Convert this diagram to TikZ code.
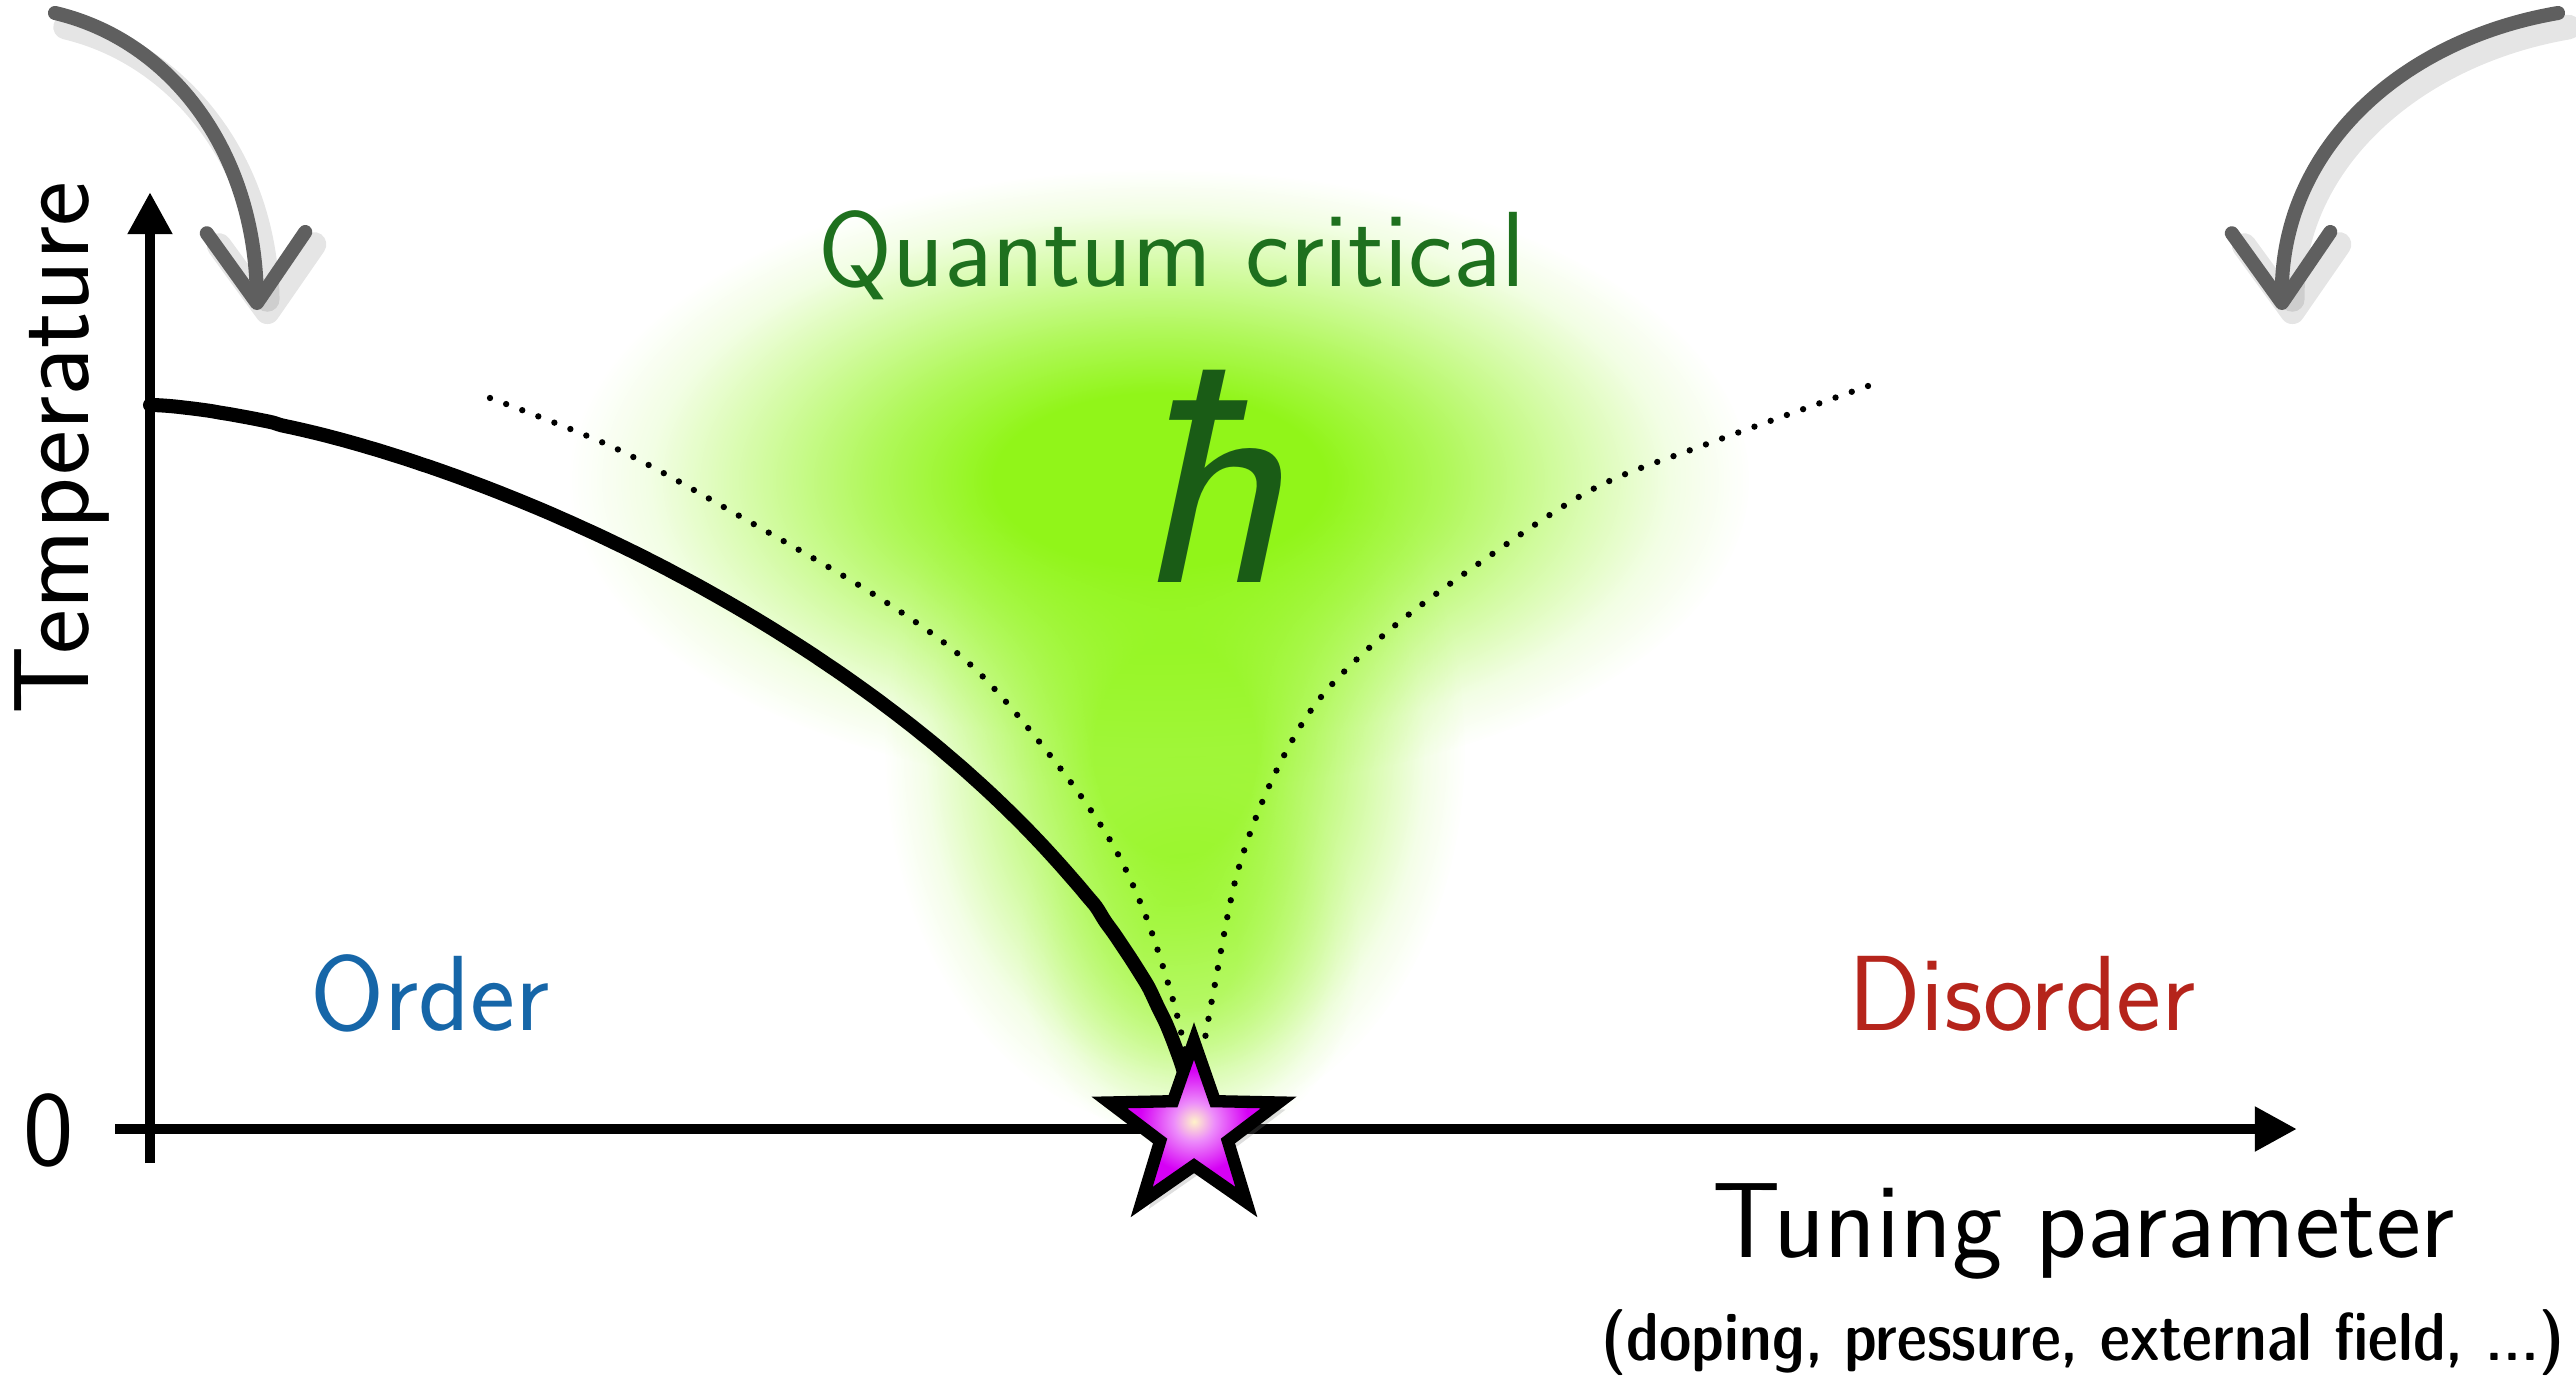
\documentclass[tikz,border=0pt]{standalone}
\usepackage{fontspec}
\renewcommand{\familydefault}{\sfdefault}
\newfontfamily\demicond{lmsansdemicond10-regular.otf}
\usetikzlibrary{
	arrows.meta,
	shapes.geometric,
	shadows,
	fadings
}

\definecolor{glowgreen}{RGB}{145,245,25}
\definecolor{qcgreen}{RGB}{30,112,30}
\definecolor{hbargreen}{RGB}{26,92,22}
\definecolor{ordercol}{RGB}{22,102,168}
\definecolor{disordercol}{RGB}{181,36,27}
\definecolor{chalkgray}{RGB}{95,95,95}
\definecolor{starcore}{RGB}{255,243,200}
\definecolor{starpink}{RGB}{214,0,245}

\pgfdeclareradialshading{glowshade}{\pgfpointorigin}{color(0bp)=(white); color(7bp)=(white); color(12bp)=(white!72!black); color(17bp)=(white!40!black); color(21.5bp)=(white!12!black); color(25bp)=(black); color(50bp)=(black)}
\pgfdeclarefading{glowfade}{\pgfuseshading{glowshade}}
\pgfdeclareradialshading{starshade}{\pgfpointorigin}{color(0bp)=(starcore); color(6bp)=(starpink!45!white); color(16bp)=(starpink); color(50bp)=(starpink)}

\begin{document}
\begin{tikzpicture}[
		x=0.01cm, y=-0.01cm,
		lbl/.style={font=\fontsize{30.4}{36}\selectfont, inner sep=0pt},
		axis/.style={line width=3pt, -{Triangle[length=12pt,width=12pt]}},
		boundary/.style={line width=4pt, line cap=round},
		crossover/.style={line width=1.8pt, line cap=round, dash pattern=on 0pt off 4.9pt},
		chalk/.style={draw=chalkgray, line width=4pt, line cap=round, -{Straight Barb[length=20pt,width=28pt,round]}},
		chalkshadow/.style={draw=black, opacity=0.1, line width=7pt, line cap=round, -{Straight Barb[length=19pt,width=27pt,round]}, transform canvas={shift={(3pt,-4pt)}}},
		glow/.style={fill=glowgreen, path fading=glowfade},
		qcpstar/.style={star, star points=5, star point ratio=2.5, minimum size=1.78cm, inner sep=0pt, draw, line width=3.5pt, shade, shading=starshade, drop shadow={opacity=0.25, shadow xshift=2pt, shadow yshift=-2pt}}
		]
		\useasboundingbox (0,0) rectangle (2576,1379);
		
		% Glow
		\fill[glow] (1160,480) ellipse (590 and 310);
		\fill[glow, opacity=0.85] (1175,750) ellipse (290 and 380);
		\fill[glow, opacity=0.5] (1190,950) ellipse (170 and 200);
		
		% Coordinates
		\coordinate (ybot) at (150,1163);
		\coordinate (ytip) at (150,192);
		\coordinate (xleft) at (115,1129);
		\coordinate (xtip) at (2297,1129);
		
		% Crossover lines
		\draw[crossover] plot[smooth, tension=0.55] coordinates {(490,398) (617,449) (743,518) (881,599) (973,667) (1053,759) (1110,840) (1145,914) (1173,1000) (1186,1055)};
		\draw[crossover] plot[smooth, tension=0.55] coordinates {(1868,386) (1707,444) (1593,489) (1478,564) (1386,633) (1317,702) (1271,782) (1237,874) (1214,989) (1203,1050)};
		
		% Phase boundary
		\draw[boundary] plot[domain=0:0.9995, samples=120, smooth] ({150+1044*\x}, {1129-724*(1-\x^1.5)^0.6}) -- (1194,1129);
		
		% Axes
		\draw[axis] (ybot) -- (ytip);
		\draw[axis] (xleft) -- (xtip);
		
		% Quantum critical point
		\node[qcpstar] (qcp) at (1194,1130) {};
		
		% Labels
		\node[lbl, rotate=90, anchor=base] (temp) at (88,448) {Temperature};
		\node[lbl] (zero) at (49,1130) {0};
		\node[lbl, anchor=base, text=ordercol] (order) at (430,1030) {Order};
		\node[lbl, anchor=base, text=disordercol] (disorder) at (2022,1030) {Disorder};
		\node[lbl, anchor=base, text=qcgreen] (qc) at (1172,287) {Quantum critical};
		\node[anchor=base, inner sep=0pt, text=hbargreen, font=\fontsize{87}{90}\selectfont\itshape] (hbar) at (1210,582) {ħ};
		\node[lbl, anchor=base] (tuning) at (2084,1257) {Tuning parameter};
		\node[anchor=base, inner sep=0pt, font=\demicond\fontsize{19.3}{23}\selectfont] (examples) at (2083,1360) {(doping, pressure, external field, ...)};
		
		% Chalk arrows
		\draw[chalkshadow] (55,13) .. controls (170,40) and (255,150) .. (257,310);
		\draw[chalk] (55,13) .. controls (170,40) and (255,150) .. (257,310);
		\draw[chalkshadow] (2558,13) .. controls (2400,40) and (2280,150) .. (2282,310);
		\draw[chalk] (2558,13) .. controls (2400,40) and (2280,150) .. (2282,310);
		
	\end{tikzpicture}
\end{document}
